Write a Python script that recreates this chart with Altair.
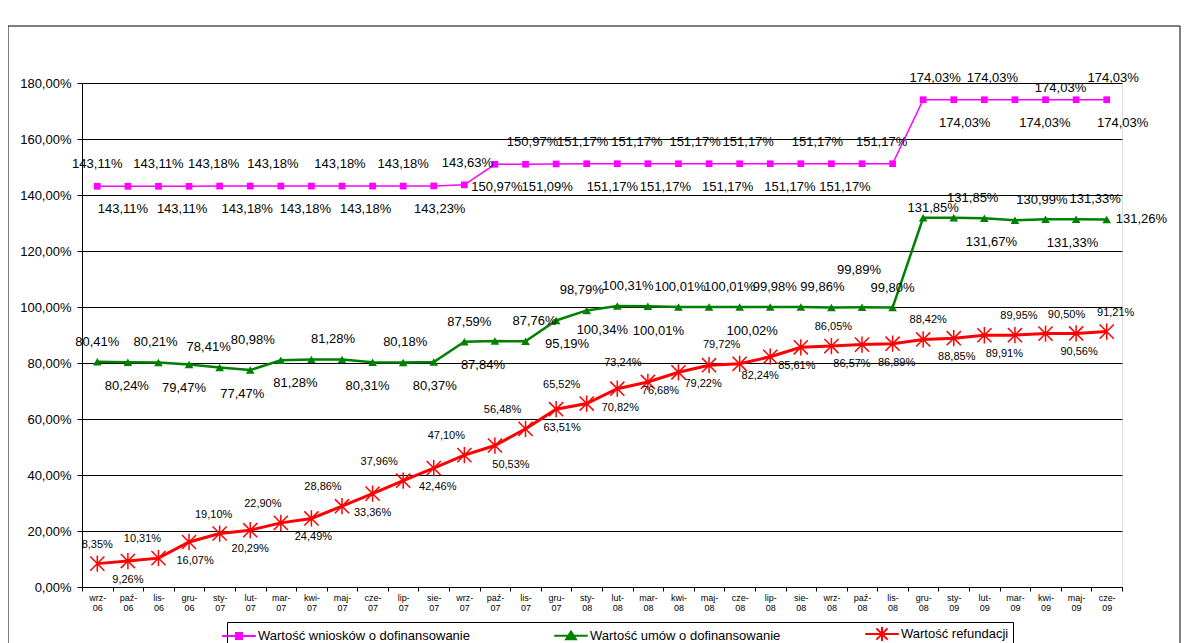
import altair as alt
import pandas as pd

months = ['wrz-06', 'paź-06', 'lis-06', 'gru-06', 'sty-07', 'lut-07', 'mar-07', 'kwi-07',
          'maj-07', 'cze-07', 'lip-07', 'sie-07', 'wrz-07', 'paź-07', 'lis-07', 'gru-07',
          'sty-08', 'lut-08', 'mar-08', 'kwi-08', 'maj-08', 'cze-08', 'lip-08', 'sie-08',
          'wrz-08', 'paź-08', 'lis-08', 'gru-08', 'sty-09', 'lut-09', 'mar-09', 'kwi-09',
          'maj-09', 'cze-09']

wnioski = [143.11, 143.11, 143.11, 143.11, 143.18, 143.18, 143.18, 143.18, 143.18, 143.18,
           143.18, 143.23, 143.63, 150.97, 150.97, 151.09, 151.17, 151.17, 151.17, 151.17,
           151.17, 151.17, 151.17, 151.17, 151.17, 151.17, 151.17, 174.03, 174.03, 174.03,
           174.03, 174.03, 174.03, 174.03]

umowy = [80.41, 80.24, 80.21, 79.47, 78.41, 77.47, 80.98, 81.28, 81.28, 80.31,
         80.18, 80.37, 87.59, 87.84, 87.76, 95.19, 98.79, 100.34, 100.31, 100.01,
         100.01, 100.01, 100.02, 99.98, 99.86, 99.89, 99.80, 131.85, 131.85, 131.67,
         130.99, 131.33, 131.33, 131.26]

refundacje = [8.35, 9.26, 10.31, 16.07, 19.10, 20.29, 22.90, 24.49, 28.86, 33.36,
              37.96, 42.46, 47.10, 50.53, 56.48, 63.51, 65.52, 70.82, 73.24, 76.68,
              79.22, 79.72, 82.24, 85.61, 86.05, 86.57, 86.89, 88.42, 88.85, 89.91,
              89.95, 90.50, 90.56, 91.21]

series_names = ["Wartość wniosków o dofinansowanie",
                "Wartość umów o dofinansowanie",
                "Wartość refundacji"]
series_values = [wnioski, umowy, refundacje]
y_ticks = [0, 20, 40, 60, 80, 100, 120, 140, 160, 180]

# label placement:
# a = above, h = well above, l = just above, b = below, r = right
pos_wnioski = "ab" * 13 + "a" + "ababl" + "ab"
pos_umowy = "abababababababababab" + "aabaaha" + "lababa" + "r"
pos_refund = "abababababababababab" + "babbabbabbaaba"

# horizontal nudges of individual labels (pixels), as placed in the picture
shift_wnioski = [0, -5, 0, -7, -6, -3, -8, -6, -2, -7, 0, 6, 3, 2, 7, -9,
                 -4, -5, -11, -13, -14, -12, -22, -11, -14, -17, -11, 12, 11, 8,
                 30, 15, 37, 16]
shift_umowy = [0, -1, -3, -5, -11, -8, -28, -16, -9, -5, 2, 1, 5, -12, 9, 11,
               -5, -15, -20, -20, -29, -10, -18, -26, -9, -3, 0, 10, 19, 7,
               27, 27, 19, 0]
shift_refund = [0, 0, -16, 6, -6, 0, -18, 2, -19, 0, -24, 4, -18, 16, -23, 6,
                -25, 3, -25, -18, -6, -18, -10, -4, 2, -10, 4, 5, 3, 20,
                4, 21, 3, 9]

# styles
colors = ["#FF00FF", "#008000", "#FF0000"]
line_widths = [1.5, 2.5, 3]
ASTER = "M-1,-1L1,1M-1,1L1,-1M0,-1.15V1.15"
marker_shapes = ["square", "triangle-up", ASTER]
marker_sizes = [45, 75, 200]
marker_filled = [True, True, False]
label_sizes = [13, 13, 11]
label_up = [-22, -20, -19]
label_down = [23, 24, 19]
extra_up = {"a": 0, "h": -17, "l": 10}
legend_paths = [
    "M-2.4,0H2.4M-0.43,-0.43H0.43V0.43H-0.43Z",
    "M-2.4,0H2.4M0,-0.6L0.7,0.5H-0.7Z",
    "M-2.4,0H2.4M-0.8,-0.8L0.8,0.8M-0.8,0.8L0.8,-0.8M0,-1V1",
]

rows = []
for name, vals, pos, sh in zip(series_names, series_values,
                               [pos_wnioski, pos_umowy, pos_refund],
                               [shift_wnioski, shift_umowy, shift_refund]):
    for i, (m, v) in enumerate(zip(months, vals)):
        rows.append({"month": m, "series": name, "value": v, "idx": i,
                     "pos": pos[i], "shift": sh[i],
                     "label": f"{v:.2f}".replace(".", ",") + "%"})
df = pd.DataFrame(rows)

FONT = "Arial, Liberation Sans, sans-serif"
NARROW = "Liberation Sans Narrow, Arial Narrow, Liberation Sans, Arial"

x_enc = alt.X(
    "month:N", sort=months,
    scale=alt.Scale(type="band", paddingInner=0, paddingOuter=0),
    axis=alt.Axis(title=None, labelAngle=0,
                  labelExpr="indexof(datum.label, '-') > 0 ? [split(datum.label,'-')[0] + '-', split(datum.label,'-')[1]] : ''",
                  labelFontSize=9, labelFont=NARROW, labelLineHeight=10,
                  labelPadding=2, labelColor="black", tickBand="extent",
                  tickSize=4, tickColor="black", domainColor="black",
                  labelOverlap=False, grid=False),
)
y_enc = alt.Y(
    "value:Q",
    scale=alt.Scale(domain=[0, 180], nice=False),
    axis=alt.Axis(title=None, values=y_ticks,
                  labelExpr="replace(format(datum.value, '.2f'), '.', ',') + '%'",
                  labelFontSize=13, labelFont=FONT, labelColor="black",
                  labelPadding=6, tickSize=5, tickColor="black",
                  domainColor="black", grid=True, gridColor="black", gridWidth=1),
)

base = alt.Chart(df).encode(x=x_enc, y=y_enc)

lines, points, texts = [], [], []
for k, name in enumerate(series_names):
    sub = base.transform_filter(alt.datum.series == name)
    lines.append(sub.mark_line(color=colors[k], strokeWidth=line_widths[k]))
    points.append(sub.mark_point(shape=marker_shapes[k], size=marker_sizes[k],
                                 filled=marker_filled[k], color=colors[k],
                                 opacity=1, strokeWidth=1.5))
    combos = df[df.series == name][["pos", "shift"]].drop_duplicates().values.tolist()
    for code, sh in combos:
        sh = int(sh)
        if code in extra_up:
            dy, dx, align = label_up[k] + extra_up[code], sh, "center"
        elif code == "b":
            dy, dx, align = label_down[k], sh, "center"
        else:
            dy, dx, align = 0, 9 + sh, "left"
        texts.append(sub.transform_filter(
            f"datum.pos == '{code}' && datum.shift == {sh}"
        ).mark_text(dy=dy, dx=dx, align=align, fontSize=label_sizes[k],
                    font=FONT, color="black").encode(text="label:N"))

leg_opts = dict(orient="none", legendX=145, legendY=539, direction="horizontal",
                title=None, strokeColor="black", padding=4, symbolSize=196,
                symbolStrokeWidth=2, labelFontSize=13, labelFont=FONT,
                labelColor="black", labelOffset=11, labelLimit=500,
                columnPadding=80)
legend_layer = base.transform_filter("false").mark_point(filled=True, opacity=1).encode(
    fill=alt.Fill("series:N", scale=alt.Scale(domain=series_names, range=colors),
                  legend=alt.Legend(**leg_opts)),
    stroke=alt.Stroke("series:N", scale=alt.Scale(domain=series_names, range=colors),
                      legend=alt.Legend(**leg_opts)),
    shape=alt.Shape("series:N", scale=alt.Scale(domain=series_names, range=legend_paths),
                    legend=alt.Legend(**leg_opts)),
)

frame = alt.Chart(alt.Data(values=[{"f": 1}])).mark_rect(
    filled=False, color="black", strokeWidth=1
).encode(x=alt.value(-74), x2=alt.value(1098), y=alt.value(-57), y2=alt.value(600))

chart = alt.layer(*lines, *points, *texts, legend_layer, frame).properties(
    width=1040, height=504,
    autosize=alt.AutoSizeParams(type="none"),
    padding={"left": 74, "top": 75, "right": 59, "bottom": 56},
).configure_view(stroke="#808080", strokeWidth=1).configure(background="white")

chart.save("out.html", embed_options={"renderer": "svg", "actions": False})
